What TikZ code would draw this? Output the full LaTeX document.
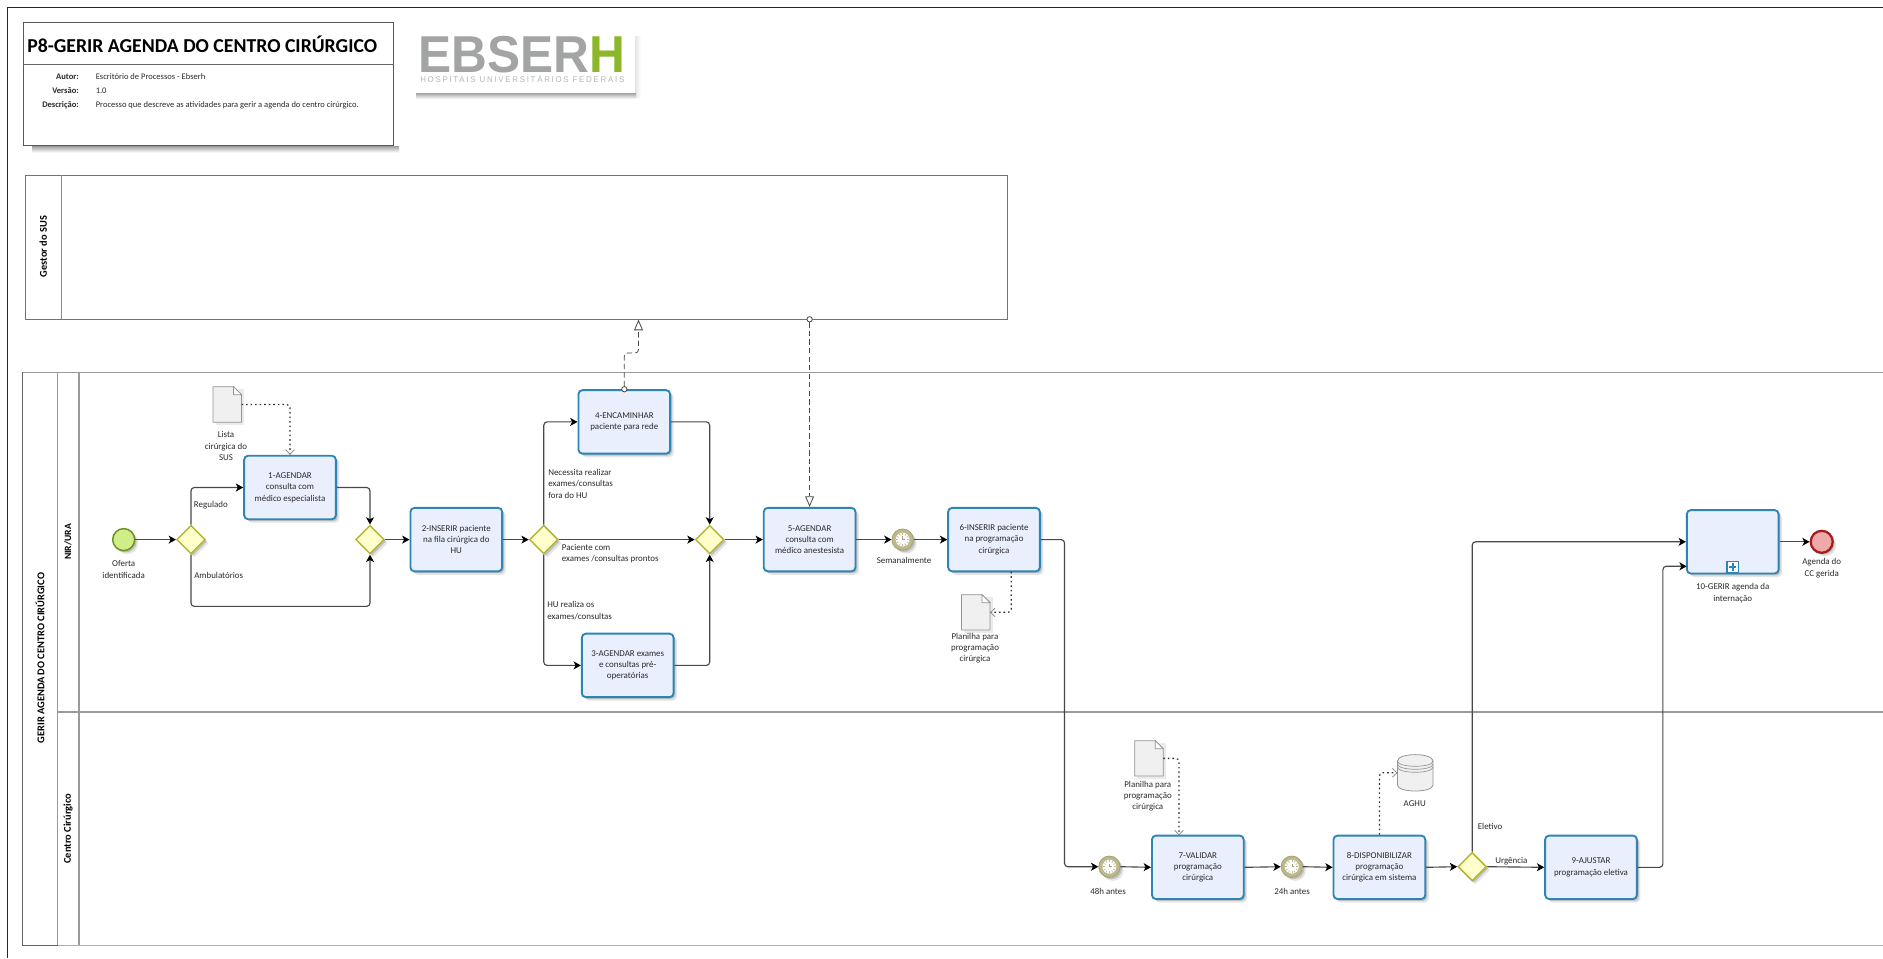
\documentclass[tikz,border=0pt]{standalone}
\usepackage{fontspec}
\setmainfont{Carlito}
\usetikzlibrary{arrows.meta,shapes.geometric,shadows,calc}
\definecolor{taskb}{HTML}{2C85B5}
\definecolor{taskf}{HTML}{EAEFFD}
\definecolor{gwb}{HTML}{B4B432}
\definecolor{gwf}{HTML}{FFFFCC}
\definecolor{txt}{HTML}{2A2A2A}
\definecolor{flow}{HTML}{484848}
\definecolor{lane}{HTML}{9A9A9A}
\definecolor{tim}{HTML}{BDB98C}
\definecolor{timb}{HTML}{A5A172}
\definecolor{logog}{HTML}{A3A5A4}
\definecolor{logos}{HTML}{B4B6B5}
\definecolor{logoh}{HTML}{8DB72A}
\definecolor{startf}{HTML}{CFEE88}
\definecolor{startb}{HTML}{6C8F22}
\definecolor{endf}{HTML}{EFA9A9}
\definecolor{endb}{HTML}{A51C1C}
\tikzset{
  softshadow/.style={drop shadow={shadow xshift=2.6pt,shadow yshift=-2.6pt,opacity=.10,fill=black},
                     drop shadow={shadow xshift=1.4pt,shadow yshift=-1.4pt,opacity=.16,fill=black}},
  taskbox/.style={draw=taskb,line width=1.4pt,fill=taskf,rounded corners=3pt,minimum width=68.8pt,minimum height=47.6pt,
    align=center,inner sep=1pt,text=txt,font=\fontsize{6.7}{8.5}\selectfont,softshadow},
  gate/.style={diamond,aspect=1,draw=gwb,line width=1.1pt,fill=gwf,minimum width=21.5pt,minimum height=21.5pt,inner sep=0pt,softshadow},
  startev/.style={circle,draw=startb,line width=1.1pt,fill=startf,minimum size=16.5pt,inner sep=0pt,softshadow},
  endev/.style={circle,draw=endb,line width=1.7pt,fill=endf,minimum size=16.5pt,inner sep=0pt,softshadow},
  timerev/.style={circle,draw=timb,line width=.6pt,fill=tim,minimum size=16pt,inner sep=0pt,softshadow},
  lbl/.style={inner sep=0pt,align=center,text=txt,font=\fontsize{6.7}{8.5}\selectfont},
  lbll/.style={lbl,align=left,anchor=west},
  hdr/.style={inner sep=0pt,text=txt,font=\fontsize{6.4}{7.5}\selectfont},
  hdrkey/.style={inner sep=0pt,anchor=east,text=txt,font=\fontsize{6.4}{7.5}\selectfont\bfseries},
  lanetitle/.style={inner sep=0pt,rotate=90,text=black,font=\fontsize{7.8}{9}\selectfont\bfseries},
  seq/.style={draw=flow,line width=.85pt,rounded corners=2.5pt,-{Stealth[length=5.5pt,width=6pt,inset=1.5pt,color=black]}},
  dataflow/.style={draw=black!80,line width=.95pt,rounded corners=2.5pt,dash pattern=on 1.2pt off 2.2pt,
    -{Straight Barb[length=3.5pt,width=6.5pt,line width=.5pt,color=gray]}},
  msg/.style={draw=flow,line width=.6pt,rounded corners=2.5pt,dash pattern=on 4pt off 2.4pt,
    -{Triangle[open,length=8pt,width=6.6pt,line width=.6pt,fill=white]}},
  msgstart/.style={circle,draw=flow,line width=.6pt,fill=white,minimum size=4pt,inner sep=0pt},
  invisible/.style={inner sep=0pt,outer sep=0pt,draw=none},
}
\newcommand{\timerevent}[3]{%
  \node[timerev] (#1) at (#2,#3) {};
  \fill[white] (#1.center) circle (5.2pt);
  \foreach \ang in {0,30,...,330}{\draw[tim,line width=.45pt] ($(#1.center)+(\ang:3.4pt)$) -- ($(#1.center)+(\ang:5pt)$);}
  \draw[timb,line width=.45pt] ($(#1.center)+(0,2.4pt)$) -- (#1.center) -- ($(#1.center)+(2pt,0)$);
}
\newcommand{\docshape}[5]{%
  \path[fill=black!15,opacity=.5] (#2+2.5,#3+2.5) rectangle (#4+2.5,#5+2.5);
  \draw[draw=black!42,line width=.6pt,fill=black!6] (#2,#3) -- (#4-8,#3) -- (#4,#3+8) -- (#4,#5) -- (#2,#5) -- cycle;
  \draw[draw=black!42,line width=.5pt,fill=white] (#4-8,#3) -- (#4-8,#3+8) -- (#4,#3+8) -- cycle;
  \node[invisible,minimum width=#4*.75pt-#2*.75pt,minimum height=#5*.75pt-#3*.75pt] (#1) at ({(#2+#4)/2},{(#3+#5)/2}) {};
}
\begin{document}
\begin{tikzpicture}[x=0.75pt,y=-0.75pt]
\useasboundingbox (0,0) rectangle (1883,958);
\fill[white] (0,0) rectangle (1883,958);
% outer frame
\draw[black!85,line width=.9pt] (7.7,958) -- (7.7,7.5) -- (1883,7.5);

% title block
\shade[top color=black!38,bottom color=white] (32,146) rectangle (399,152.5);
\node[draw=black!65,line width=.85pt,fill=white,minimum width=277.5pt,minimum height=92.6pt,inner sep=0pt] (titlebox) at (208.9,84) {};
\draw[black!60,line width=.7pt] (titlebox.west |- 0,64.3) -- (titlebox.east |- 0,64.3);
\node[inner sep=0pt,anchor=west,text=black,font=\fontsize{14.8}{16}\selectfont\bfseries] (ttl) at (27,44) {P8-GERIR AGENDA DO CENTRO CIRÚRGICO};
\node[hdrkey] (k1) at (79,76.7) {Autor:};
\node[hdrkey] (k2) at (79,90.7) {Versão:};
\node[hdrkey] (k3) at (79,105) {Descrição:};
\node[hdr,anchor=west] (v1) at (95.5,76.7) {Escritório de Processos - Ebserh};
\node[hdr,anchor=west] (v2) at (95.5,90.7) {1.0};
\node[hdr,anchor=west] (v3) at (95.5,105) {Processo que descreve as atividades para gerir a agenda do centro cirúrgico.};

% logo
\shade[left color=black!10,right color=white] (635,36) rectangle (641,97);
\shade[top color=black!36,bottom color=white] (416,93) rectangle (636,99);
\fill[white] (416,30) rectangle (635,93);
\node[inner sep=0pt,anchor=west,text=logog] (logo1) at (418,54.2) {\resizebox{155pt}{27.2pt}{\fontspec{Liberation Sans}\bfseries EBSER\textcolor{logoh}{H}}};
\node[inner sep=0pt,anchor=west,text=logos] (logo2) at (420,78.6) {\resizebox{153pt}{5.4pt}{\fontspec{Liberation Sans}\fontsize{6}{7}\selectfont\addfontfeatures{LetterSpace=22}HOSPITAIS UNIVERSITÁRIOS FEDERAIS}};

% Gestor pool
\node[draw=black!55,line width=.85pt,fill=white,minimum width=736.6pt,minimum height=108.2pt,inner sep=0pt] (gestor) at (516.8,247.2) {};
\draw[black!45,line width=.95pt] (61.3,175) -- (61.3,319.3);
\node[lanetitle] (gestorlbl) at (43.3,246.5) {Gestor do SUS};

% main pool
\draw[lane,line width=.85pt] (1883,372.3) -- (22.7,372.3);
\draw[black!60,line width=.8pt] (22.7,372.3) -- (22.7,945.3) -- (57.7,945.3);
\draw[lane!80,line width=1pt] (57.7,945.3) -- (1883,945.3);
\draw[lane,line width=.8pt] (57.7,372.3) -- (57.7,945.3);
\draw[lane,line width=.9pt] (79,372.3) -- (79,945.3);
\draw[lane,line width=.85pt] (57.7,712) -- (1883,712);
\node[lanetitle] (poollbl) at (40,658) {GERIR AGENDA DO CENTRO CIRÚRGICO};
\node[lanetitle,font=\fontsize{7.2}{9}\selectfont\bfseries] (lane1) at (68,542) {NIR/URA};
\node[lanetitle] (lane2) at (68,828.7) {Centro Cirúrgico};

% events and gateways
\node[startev] (start) at (123.7,539.6) {};
\node[gate] (g1) at (191,539.6) {};
\node[gate] (g2) at (370,539.6) {};
\node[gate] (g3) at (543.8,539.6) {};
\node[gate] (g4) at (709.7,539.6) {};
\node[gate] (g5) at (1472.2,866.7) {};
\node[endev] (finish) at (1821.7,541.8) {};
\timerevent{tm1}{902.6}{539.6}
\timerevent{tm2}{1109.4}{866.7}
\timerevent{tm3}{1291.8}{866.7}

% tasks
\node[taskbox] (t1) at (290,487.5) {1-AGENDAR\\consulta com\\médico especialista};
\node[taskbox] (t2) at (456.3,539.6) {2-INSERIR paciente\\na fila cirúrgica do\\HU};
\node[taskbox] (t4) at (624.3,421.9) {4-ENCAMINHAR\\paciente para rede};
\node[taskbox] (t3) at (627.7,665.4) {3-AGENDAR exames\\e consultas pré-\\operatórias};
\node[taskbox] (t5) at (809.6,539.6) {5-AGENDAR\\consulta com\\médico anestesista};
\node[taskbox] (t6) at (994,539.6) {6-INSERIR paciente\\na programação\\cirúrgica};
\node[taskbox] (t7) at (1197.8,867.3) {7-VALIDAR\\programação\\cirúrgica};
\node[taskbox] (t8) at (1379.4,867.3) {8-DISPONIBILIZAR\\programação\\cirúrgica em sistema};
\node[taskbox] (t9) at (1591,867.3) {9-AJUSTAR\\programação eletiva};
\node[taskbox] (t10) at (1732.7,541.8) {};
\node[draw=taskb,line width=1pt,fill=white,minimum size=8.6pt,inner sep=0pt] (sub10) at (1732.7,567) {};
\draw[taskb,line width=1.5pt] ($(sub10.center)+(-2.7pt,0)$) -- ($(sub10.center)+(2.7pt,0)$);
\draw[taskb,line width=1.5pt] ($(sub10.center)+(0,-2.7pt)$) -- ($(sub10.center)+(0,2.7pt)$);

% artefacts
\docshape{d1}{213}{386.7}{241.5}{422.3}
\docshape{d2}{961.5}{594.7}{990}{630}
\docshape{d3}{1134.7}{740.7}{1163.3}{776}
\draw[draw=black!42,line width=.6pt,fill=black!6] (1397.5,761) -- (1397.5,785) .. controls (1397.5,793) and (1433,793) .. (1433,785) -- (1433,761) .. controls (1433,752.5) and (1397.5,752.5) .. (1397.5,761) -- cycle;
\draw[draw=black!42,line width=.5pt] (1397.5,761) .. controls (1397.5,768) and (1433,768) .. (1433,761);
\draw[draw=black!42,line width=.5pt] (1397.5,764) .. controls (1397.5,771) and (1433,771) .. (1433,764);
\draw[draw=black!42,line width=.5pt] (1397.5,767) .. controls (1397.5,774) and (1433,774) .. (1433,767);
\node[invisible,minimum width=26.6pt,minimum height=26.8pt] (db) at (1415.2,772.8) {};

% anchors that are off-centre
\coordinate (c7) at (1179,835.3);
\coordinate (c6) at (1011.3,571.7);
\coordinate (c10) at (1686.7,566.3);
\coordinate (pa) at (638.5,319.6);
\coordinate (pb) at (809.6,319.3);
\coordinate (jog) at (638.5,353);
\node[msgstart] (o4) at (t4.north) {};
\node[msgstart] (o5) at (pb) {};

% sequence flows
\draw[seq] (start.east) -- (g1.west);
\draw[seq] (g1.north) |- (t1.west);
\draw[seq] (t1.east) -| (g2.north);
\draw[seq] (g1.south) |- ++(90,51.7) -| (g2.south);
\draw[seq] (g2.east) -- (t2.west);
\draw[seq] (t2.east) -- (g3.west);
\draw[seq] (g3.north) |- (t4.west);
\draw[seq] (g3.south) |- (t3.west);
\draw[seq] (g3.east) -- (g4.west);
\draw[seq] (t4.east) -| (g4.north);
\draw[seq] (t3.east) -| (g4.south);
\draw[seq] (g4.east) -- (t5.west);
\draw[seq] (t5.east) -- (tm1.west);
\draw[seq] (tm1.east) -- (t6.west);
\draw[seq] (t6.east) -- (1064.5,539.6) |- (tm2.west);
\draw[seq] (tm2.east) -- (t7.west);
\draw[seq] (t7.east) -- (tm3.west);
\draw[seq] (tm3.east) -- (t8.west);
\draw[seq] (t8.east) -- (g5.west);
\draw[seq] (g5.east) -- (t9.west);
\draw[seq] (g5.north) |- (t10.west);
\draw[seq] (t9.east) -- (1662.9,867.3) |- (c10);
\draw[seq] (t10.east) -- (finish.west);

% data associations
\draw[dataflow] (d1.east) -| (t1.north);
\draw[dataflow] (c6) |- (d2.east);
\draw[dataflow] (d3.east) -| (c7);
\draw[dataflow] (t8.north) |- (db.west);

% message flows
\draw[msg] (o4.north) |- (jog) -- (pa);
\draw[msg] (o5.south) -- (t5.north);

% labels
\node[lbl] (ld1) at (226,446) {Lista\\cirúrgica do\\SUS};
\node[lbl] (lstart) at (123.7,569.5) {Oferta\\identificada};
\node[lbll] (lreg) at (193.7,504.7) {Regulado};
\node[lbll] (lamb) at (194,575) {Ambulatórios};
\node[lbll] (lnec) at (548,483.6) {Necessita realizar\\exames/consultas\\fora do HU};
\node[lbll] (lpac) at (561.6,553.6) {Paciente com\\exames /consultas prontos};
\node[lbll] (lhu) at (547,610.6) {HU realiza os\\exames/consultas};
\node[lbl] (lsem) at (904,560.7) {Semanalmente};
\node[lbl] (ld2) at (975,648) {Planilha para\\programação\\cirúrgica};
\node[lbl] (ld3) at (1147.8,796.2) {Planilha para\\programação\\cirúrgica};
\node[lbl] (ldb) at (1414.7,803.7) {AGHU};
\node[lbl] (l48) at (1108,891.3) {48h antes};
\node[lbl] (l24) at (1292,891.3) {24h antes};
\node[lbll] (lele) at (1477.6,826) {Eletivo};
\node[lbll] (lurg) at (1495,860.7) {Urgência};
\node[lbl] (lt10) at (1732.7,593) {10-GERIR agenda da\\internação};
\node[lbl] (lend) at (1821.7,568.3) {Agenda do\\CC gerida};
\end{tikzpicture}
\end{document}
